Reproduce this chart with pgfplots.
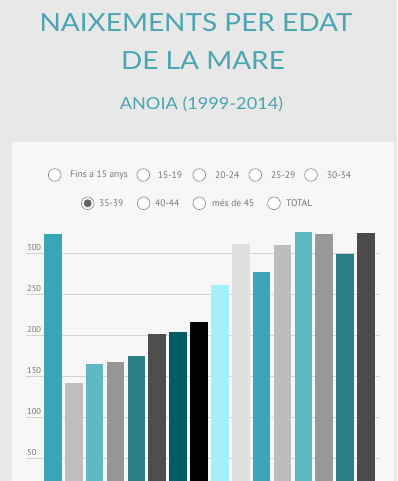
\documentclass[border=0pt]{standalone}
\usepackage{graphicx}
\usepackage{pgfplots}
\pgfplotsset{compat=1.18}
\usepackage{fontspec}
\setmainfont{PT Sans}
\newfontfamily\titlefont{Lato}
\definecolor{bg}{HTML}{E8E8E8}
\definecolor{panel}{HTML}{F7F7F7}
\definecolor{ttl}{HTML}{4BA5B2}
\definecolor{lbl}{HTML}{777777}
\definecolor{gridc}{HTML}{D2D2D2}
\definecolor{c1}{HTML}{39A6B6}
\definecolor{c2}{HTML}{BEBEBE}
\definecolor{c3}{HTML}{5FB8C4}
\definecolor{c4}{HTML}{969696}
\definecolor{c5}{HTML}{2A7F86}
\definecolor{c6}{HTML}{4D4D4D}
\definecolor{c7}{HTML}{015B63}
\definecolor{c8}{HTML}{000000}
\definecolor{c9}{HTML}{A3F0FC}
\definecolor{c10}{HTML}{E0E0E0}
\definecolor{c11}{HTML}{3AA6B8}
\definecolor{c12}{HTML}{BDBDBD}
\definecolor{c13}{HTML}{5FB7C5}
\definecolor{c14}{HTML}{999999}
\definecolor{c15}{HTML}{2A7F86}
\definecolor{c16}{HTML}{4E4A4A}
\begin{document}
\begin{tikzpicture}
\useasboundingbox (0pt,0pt) rectangle (397pt,481pt);
\clip (0pt,0pt) rectangle (397pt,481pt);
\fill[bg] (0pt,0pt) rectangle (397pt,481pt);
\fill[panel] (12pt,-5pt) rectangle (394pt,339pt);
% titles
\node[anchor=base, text=ttl, font=\titlefont\fontsize{25}{25}\selectfont, inner sep=0pt] at (196pt,449pt) {\scalebox{1.12}[1]{NAIXEMENTS PER EDAT}};
\node[anchor=base, text=ttl, font=\titlefont\fontsize{25}{25}\selectfont, inner sep=0pt] at (203pt,411pt) {\scalebox{1.12}[1]{DE LA MARE}};
\node[anchor=base, text=ttl, font=\titlefont\fontsize{16.5}{16.5}\selectfont, inner sep=0pt] at (201.5pt,371pt) {\scalebox{1.1}[1]{ANOIA (1999-2014)}};
% radio buttons
\tikzset{radio/.style={draw=lbl!90, fill=white, line width=0.6pt},
         rlab/.style={anchor=west, text=lbl, font=\fontsize{9.5}{10}\selectfont, inner sep=0pt}}
\foreach \cx/\lx/\t in {54.7/70/{Fins a 15 anys}, 143.3/157.7/{15-19}, 199.3/215/{20-24}, 255.3/271/{25-29}, 311/326.7/{30-34}}{
  \draw[radio] (\cx pt,306pt) circle (6.3pt);
  \node[rlab] at (\lx pt,306pt) {\t};
}
\foreach \cx/\lx/\t in {87.7/99/{35-39}, 143.7/155/{40-44}, 199.3/212/{més de 45}, 274/286/{TOTAL}}{
  \draw[radio] (\cx pt,277.7pt) circle (6.3pt);
  \node[rlab] at (\lx pt,277.7pt) {\t};
}
\fill[lbl!85!black] (87.7pt,277.7pt) circle (4pt);
\begin{axis}[
  at={(26pt,0pt)}, anchor=south west,
  scale only axis, width=354pt, height=256pt,
  xmin=-0.286, xmax=16.67, ymin=22.9, ymax=334.5,
  separate axis lines,
  axis line style={draw=none},
  xtick=\empty,
  ytick={50,100,150,200,250,300},
  major tick length=0pt,
  ymajorgrids, grid style={gridc, line width=0.8pt},
  /pgf/number format/assume math mode=true,
  yticklabel style={anchor=south west, inner sep=0pt, xshift=1pt, yshift=2.6pt, text=lbl, font=\fontsize{8.5}{9}\selectfont},
  ybar, bar width=17.7pt, bar shift=0pt,
  clip=true,
]
\addplot[fill=c1, draw=none] coordinates {(1,324)};
\addplot[fill=c2, draw=none] coordinates {(2,142)};
\addplot[fill=c3, draw=none] coordinates {(3,165.5)};
\addplot[fill=c4, draw=none] coordinates {(4,168.3)};
\addplot[fill=c5, draw=none] coordinates {(5,175.2)};
\addplot[fill=c6, draw=none] coordinates {(6,201.7)};
\addplot[fill=c7, draw=none] coordinates {(7,203.7)};
\addplot[fill=c8, draw=none] coordinates {(8,216.3)};
\addplot[fill=c9, draw=none] coordinates {(9,261)};
\addplot[fill=c10, draw=none] coordinates {(10,311.8)};
\addplot[fill=c11, draw=none] coordinates {(11,276.8)};
\addplot[fill=c12, draw=none] coordinates {(12,310.6)};
\addplot[fill=c13, draw=none] coordinates {(13,326.5)};
\addplot[fill=c14, draw=none] coordinates {(14,323.6)};
\addplot[fill=c15, draw=none] coordinates {(15,299.3)};
\addplot[fill=c16, draw=none] coordinates {(16,324.9)};
\end{axis}
\end{tikzpicture}
\end{document}
